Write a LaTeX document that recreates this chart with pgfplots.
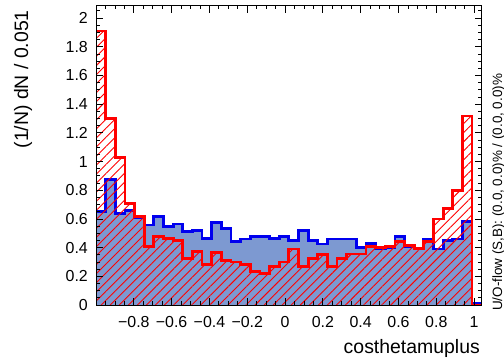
\documentclass[border=0pt]{standalone}
\usepackage{fontspec}
\setmainfont{Liberation Sans}
\usepackage{pgfplots}
\pgfplotsset{compat=1.18}
\usepackage{pgfplotstable}
\usetikzlibrary{patterns.meta}
\definecolor{sigfill}{RGB}{125,153,209}
\definecolor{sigline}{RGB}{0,0,238}
\definecolor{bkgline}{RGB}{255,0,0}

\pgfplotstableread{
x      sig    bkg
-1.000 0.650  1.910
-0.949 0.876  1.300
-0.898 0.640  1.030
-0.847 0.660  0.710
-0.796 0.610  0.615
-0.745 0.557  0.410
-0.694 0.615  0.476
-0.643 0.546  0.465
-0.592 0.565  0.450
-0.541 0.510  0.325
-0.490 0.520  0.372
-0.439 0.465  0.280
-0.388 0.575  0.365
-0.337 0.535  0.310
-0.286 0.440  0.300
-0.235 0.460  0.280
-0.184 0.476  0.235
-0.133 0.476  0.220
-0.082 0.465  0.270
-0.031 0.476  0.300
 0.020 0.450  0.390
 0.071 0.520  0.270
 0.122 0.450  0.325
 0.173 0.425  0.350
 0.224 0.460  0.270
 0.275 0.460  0.325
 0.326 0.460  0.355
 0.377 0.400  0.355
 0.428 0.430  0.405
 0.479 0.390  0.400
 0.530 0.400  0.410
 0.581 0.480  0.440
 0.632 0.410  0.414
 0.683 0.395  0.395
 0.734 0.457  0.440
 0.785 0.390  0.600
 0.836 0.450  0.674
 0.887 0.460  0.800
 0.938 0.580  1.317
 0.989 0.010  0.000
 1.040 0.010  0.000
}\histdata

\begin{document}
\begin{tikzpicture}
\path[use as bounding box] (0,0) rectangle (504bp,361bp);
\begin{axis}[
  at={(96bp,56bp)}, anchor=south west,
  scale only axis, width=385.7bp, height=299bp,
  xmin=-1, xmax=1.04, ymin=0, ymax=2.084,
  axis on top,
  xtick={-0.8,-0.6,-0.4,-0.2,0,0.2,0.4,0.6,0.8,1},
  xticklabels={−0.8,−0.6,−0.4,−0.2,0,0.2,0.4,0.6,0.8,1},
  minor xtick={-1,-0.95,...,1.01},
  ytick={0,0.2,0.4,0.6,0.8,1,1.2,1.4,1.6,1.8,2},
  yticklabels={0,0.2,0.4,0.6,0.8,1,1.2,1.4,1.6,1.8,2},
  minor ytick={0,0.05,...,2.06},
  tick align=inside, xtick pos=both, ytick pos=both,
  xticklabel pos=bottom, yticklabel pos=left,
  major tick length=7bp, minor tick length=3.5bp,
  tick style={black, line width=0.8bp},
  axis line style={black, line width=1bp},
  /pgf/number format/assume math mode=true,
  tick label style={font=\fontsize{16}{19}\selectfont, inner sep=0pt},
  yticklabel style={xshift=-8bp},
  xticklabel style={yshift=-11bp},
]
\addplot[const plot mark left, draw=none, fill=sigfill] table[x=x,y=sig]{\histdata} \closedcycle;
\addplot[const plot mark left, draw=sigline, line width=2.8bp] table[x=x,y=sig]{\histdata};
\addplot[const plot mark left, draw=none, pattern={Lines[angle=45,distance=6.4bp,line width=0.9bp]}, pattern color=red] table[x=x,y=bkg]{\histdata} \closedcycle;
\addplot[const plot mark left, draw=bkgline, line width=2.8bp] table[x=x,y=bkg]{\histdata};
\end{axis}
\node[rotate=90, anchor=base west, inner sep=0pt, font=\fontsize{13.5}{16}\selectfont] at (502bp,50bp) {U/O-flow (S,B): (0.0, 0.0)\% / (0.0, 0.0)\%};
\node[anchor=base east, inner sep=0pt, font=\fontsize{19.5}{22}\selectfont] at (480bp,8bp) {costhetamuplus};
\node[rotate=90, anchor=base east, inner sep=0pt, font=\fontsize{19.5}{22}\selectfont] at (28bp,351bp) {(1/N) dN / 0.051};
\end{tikzpicture}
\end{document}
